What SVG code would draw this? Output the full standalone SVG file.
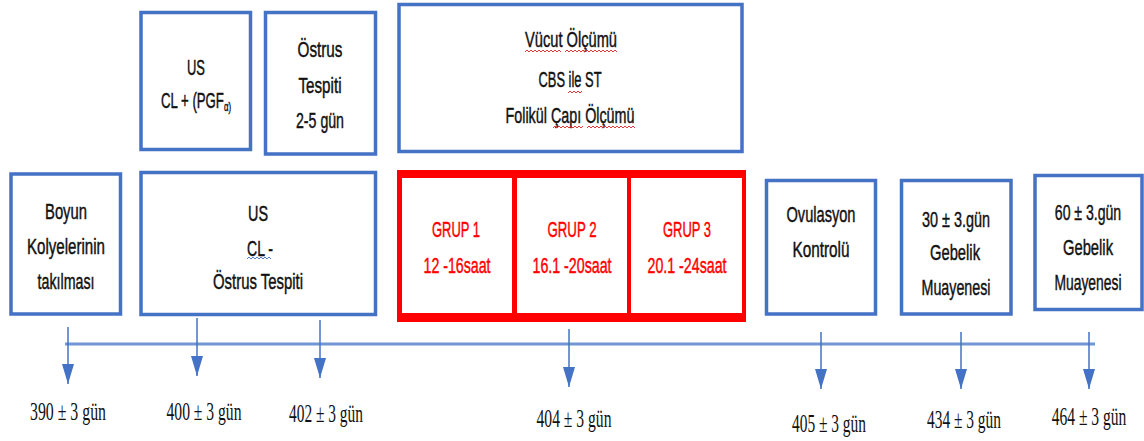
<svg xmlns="http://www.w3.org/2000/svg" width="1144" height="441" viewBox="0 0 1144 441">
<style>
.box{fill:#fff;stroke:#4472C4;stroke-width:3.5}
.t{font-family:"Liberation Sans",Arial,sans-serif;font-size:22px;fill:#111;stroke:#111;stroke-width:0.45;text-anchor:middle}
.r{fill:#FF0000;stroke:#FF0000}
.lbl{font-family:"Liberation Serif","Times New Roman",serif;font-size:25px;fill:#111;text-anchor:middle}
.arr{stroke:#4472C4;stroke-width:1.5;fill:none;marker-end:url(#ah)}
</style>
<defs>
<marker id="ah" viewBox="0 0 20 12" refX="20" refY="6" markerWidth="20" markerHeight="12" markerUnits="userSpaceOnUse" orient="auto">
<path d="M0,0 L20,6 L0,12 z" fill="#4472C4"/>
</marker>
<pattern id="sqR" width="4" height="4" patternUnits="userSpaceOnUse"><path d="M0,3 L2,1 L4,3" fill="none" stroke="#E02020" stroke-width="0.9"/></pattern>
<pattern id="sqB" width="4" height="4" patternUnits="userSpaceOnUse"><path d="M0,3 L2,1 L4,3" fill="none" stroke="#4472C4" stroke-width="0.9"/></pattern>
</defs>
<rect width="1144" height="441" fill="#fff"/>

<g id="boyun">
<rect class="box" x="11" y="174" width="109.5" height="140"/>
<text class="t" x="66" y="219" textLength="42" lengthAdjust="spacingAndGlyphs">Boyun</text>
<text class="t" x="66" y="254" textLength="78" lengthAdjust="spacingAndGlyphs">Kolyelerinin</text>
<text class="t" x="66" y="289" textLength="57" lengthAdjust="spacingAndGlyphs">takılması</text>
</g>

<g id="us-cl-minus">
<rect class="box" x="141" y="172.5" width="234.5" height="142"/>
<text class="t" x="258" y="221" textLength="20" lengthAdjust="spacingAndGlyphs">US</text>
<text class="t" x="260" y="256" textLength="26" lengthAdjust="spacingAndGlyphs">CL -</text>
<g transform="translate(247,256)"><rect width="24" height="4" fill="url(#sqB)"/></g>
<text class="t" x="258" y="289" textLength="90" lengthAdjust="spacingAndGlyphs">Östrus Tespiti</text>
</g>

<g id="us-cl-plus">
<rect class="box" x="141" y="12.5" width="109.5" height="137"/>
<text class="t" x="196" y="75" textLength="18" lengthAdjust="spacingAndGlyphs">US</text>
<text class="t" transform="translate(161,108) scale(0.6,1)" x="0" y="0" style="text-anchor:start">CL + (PGF<tspan font-size="13px" dy="3">α)</tspan></text>
</g>

<g id="ostrus-tespiti">
<rect class="box" x="265.5" y="12.5" width="110" height="141.5"/>
<text class="t" x="320" y="57" textLength="45" lengthAdjust="spacingAndGlyphs">Östrus</text>
<text class="t" x="320" y="93" textLength="43" lengthAdjust="spacingAndGlyphs">Tespiti</text>
<text class="t" x="320" y="128" textLength="48" lengthAdjust="spacingAndGlyphs">2-5 gün</text>
</g>

<g id="vucut">
<rect class="box" x="399" y="4.5" width="343" height="147" stroke-width="4.5"/>
<text class="t" x="571" y="47" textLength="92" lengthAdjust="spacingAndGlyphs">Vücut Ölçümü</text>
<g transform="translate(525,49)"><rect width="36" height="4" fill="url(#sqR)"/></g>
<g transform="translate(565,49)"><rect width="52" height="4" fill="url(#sqR)"/></g>
<text class="t" x="570" y="87" textLength="63" lengthAdjust="spacingAndGlyphs">CBS ile ST</text>
<g transform="translate(568,90)"><rect width="14" height="4" fill="url(#sqR)"/></g>
<text class="t" x="570" y="123" textLength="129" lengthAdjust="spacingAndGlyphs">Folikül Çapı Ölçümü</text>
<g transform="translate(553,125)"><rect width="30" height="4" fill="url(#sqR)"/></g>
<g transform="translate(587,125)"><rect width="48" height="4" fill="url(#sqR)"/></g>
</g>

<g id="gruplar">
<rect x="397" y="170" width="349" height="152" fill="#FF0000"/>
<g id="grup1">
<rect x="402" y="178" width="110" height="135" fill="#fff"/>
<text class="t r" x="456" y="237" textLength="48" lengthAdjust="spacingAndGlyphs">GRUP 1</text>
<text class="t r" x="457" y="273" textLength="67" lengthAdjust="spacingAndGlyphs">12 -16saat</text>
</g>
<g id="grup2">
<rect x="517" y="178" width="110" height="135" fill="#fff"/>
<text class="t r" x="572" y="237" textLength="49" lengthAdjust="spacingAndGlyphs">GRUP 2</text>
<text class="t r" x="572" y="273" textLength="79" lengthAdjust="spacingAndGlyphs">16.1 -20saat</text>
</g>
<g id="grup3">
<rect x="631" y="178" width="111" height="135" fill="#fff"/>
<text class="t r" x="687" y="237" textLength="48" lengthAdjust="spacingAndGlyphs">GRUP 3</text>
<text class="t r" x="687" y="273" textLength="79" lengthAdjust="spacingAndGlyphs">20.1 -24saat</text>
</g>
</g>

<g id="ovulasyon">
<rect class="box" x="766.5" y="180.5" width="109" height="133.5"/>
<text class="t" x="821" y="222" textLength="69" lengthAdjust="spacingAndGlyphs">Ovulasyon</text>
<text class="t" x="821" y="257" textLength="57" lengthAdjust="spacingAndGlyphs">Kontrolü</text>
</g>

<g id="gebelik30">
<rect class="box" x="901.5" y="180.5" width="109.5" height="133.5"/>
<text class="t" x="956" y="227" textLength="68" lengthAdjust="spacingAndGlyphs">30 ± 3.gün</text>
<text class="t" x="955" y="260" textLength="50" lengthAdjust="spacingAndGlyphs">Gebelik</text>
<text class="t" x="956" y="295" textLength="69" lengthAdjust="spacingAndGlyphs">Muayenesi</text>
</g>

<g id="gebelik60">
<rect class="box" x="1035" y="175.5" width="107" height="134"/>
<text class="t" transform="translate(1088,220) scale(0.64,1)" x="0" y="0">60 ± 3.gün</text>
<text class="t" x="1088" y="255" textLength="50" lengthAdjust="spacingAndGlyphs">Gebelik</text>
<text class="t" transform="translate(1088,290) scale(0.63,1)" x="0" y="0">Muayenesi</text>
</g>

<g id="connectors">
<line x1="65" y1="344" x2="1095" y2="344" stroke="#7096d4" stroke-width="3"/>
<line class="arr" x1="68" y1="327" x2="68" y2="384"/>
<line class="arr" x1="197" y1="318" x2="197" y2="376"/>
<line class="arr" x1="320" y1="320" x2="320" y2="378"/>
<line class="arr" x1="569" y1="329" x2="569" y2="387"/>
<line class="arr" x1="821" y1="332" x2="821" y2="389"/>
<line class="arr" x1="961" y1="332" x2="961" y2="389"/>
<line class="arr" x1="1089" y1="332" x2="1089" y2="389"/>
</g>

<g id="labels">
<text class="lbl" x="68" y="420" textLength="76" lengthAdjust="spacingAndGlyphs">390 ± 3 gün</text>
<text class="lbl" x="204" y="420" textLength="75" lengthAdjust="spacingAndGlyphs">400 ± 3 gün</text>
<text class="lbl" x="326" y="422" textLength="74" lengthAdjust="spacingAndGlyphs">402 ± 3 gün</text>
<text class="lbl" x="574" y="427" textLength="75" lengthAdjust="spacingAndGlyphs">404 ± 3 gün</text>
<text class="lbl" x="829" y="432" textLength="74" lengthAdjust="spacingAndGlyphs">405 ± 3 gün</text>
<text class="lbl" x="964" y="428" textLength="74" lengthAdjust="spacingAndGlyphs">434 ± 3 gün</text>
<text class="lbl" transform="translate(1089,425) scale(0.623,1)" x="0" y="0">464 ± 3 gün</text>
</g>
</svg>
